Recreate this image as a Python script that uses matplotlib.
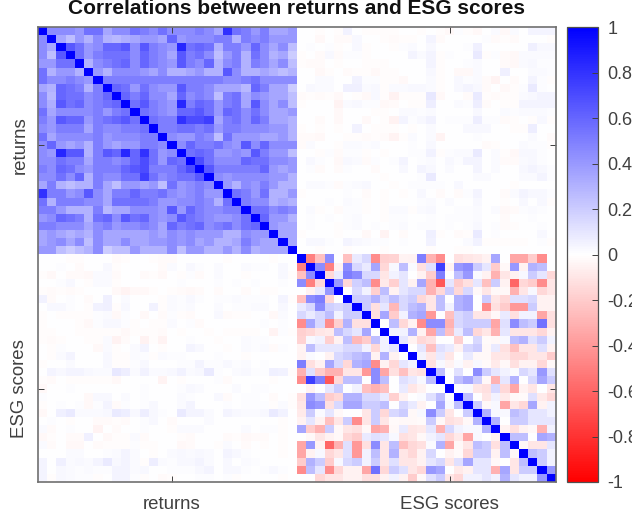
import numpy as np
import matplotlib
matplotlib.use("Agg")
import matplotlib.pyplot as plt
from matplotlib.colors import LinearSegmentedColormap

title = "Correlations between returns and ESG scores"
block_labels = ["returns", "ESG scores"]
block_ticks = [14, 44]
cbar_ticks = [-1, -0.8, -0.6, -0.4, -0.2, 0, 0.2, 0.4, 0.6, 0.8, 1]
cbar_labels = ["-1", "-0.8", "-0.6", "-0.4", "-0.2", "0", "0.2", "0.4", "0.6", "0.8", "1"]

# Upper triangle of the returns block, in hundredths
returns_upper = [
 [45,45,45,40,55,55,35,45,45,55,50,45,55,45,45,45,50,45,35,80,55,50,40,50,35,35,40],
 [35,25,40,30,45,30,28,32,35,40,40,35,60,40,45,45,45,50,50,30,50,45,50,40,40,40],
 [65,55,40,45,60,60,65,45,65,50,45,40,85,55,60,55,30,50,50,40,60,45,35,45,25],
 [55,40,50,55,55,55,45,60,50,45,35,65,50,55,45,25,40,50,30,55,45,30,35,20],
 [30,45,50,55,60,45,60,50,45,40,65,50,45,60,30,45,50,30,50,45,35,45,25],
 [40,30,45,45,45,40,35,45,30,30,35,40,30,30,65,45,30,30,35,30,25,30],
 [50,50,50,50,50,50,50,50,50,50,50,50,50,45,45,50,55,45,45,45,45],
 [60,55,40,55,45,40,40,65,50,50,45,35,35,35,28,60,50,35,35,20],
 [60,50,60,45,45,35,60,45,50,45,25,50,55,35,45,40,35,35,25],
 [55,65,50,45,40,85,50,60,55,40,50,55,35,65,45,35,45,25],
 [55,50,45,40,60,60,65,55,40,60,55,45,55,45,35,35,40],
 [55,50,50,80,70,70,75,35,50,55,45,60,50,35,35,30],
 [50,50,55,55,50,55,40,50,50,45,45,45,40,40,30],
 [45,40,40,50,45,25,55,40,40,40,35,35,40,30],
 [45,60,50,50,55,45,40,65,45,60,45,45,45],
 [55,60,55,40,40,45,40,65,50,40,40,25],
 [70,55,45,45,45,60,55,55,45,45,40],
 [65,50,50,50,50,50,60,40,35,40],
 [45,40,45,45,45,45,40,40,30],
 [40,30,45,40,50,40,30,30],
 [55,50,40,55,30,30,40],
 [50,45,45,30,35,30],
 [55,55,45,50,45],
 [60,40,40,30],
 [40,35,35],
 [35,35],
 [35],
]

# Upper triangle of the ESG block, in hundredths
esg_upper = [
 [-50,-25,45,0,-25,8,15,-45,-18,-17,-4,-5,50,-30,-45,0,-12,-10,-8,-5,35,0,-35,-35,-20,-45,0],
 [45,-50,-5,45,15,8,35,-15,3,25,2,-12,12,75,-5,40,45,20,10,-20,-3,40,-5,30,25,0],
 [-15,8,50,45,15,15,-10,5,10,0,-5,-20,50,0,25,40,2,-5,-30,-10,-5,3,20,10,-15],
 [40,-15,18,25,-45,-8,-18,10,-5,35,-30,-65,10,-20,-12,10,-25,20,-5,-60,-15,-20,-45,-10],
 [0,15,5,-18,25,-5,10,15,15,-30,-15,20,-15,15,-3,-10,-3,-3,-30,-10,3,-15,-10],
 [20,20,30,15,25,15,20,-15,-10,25,0,30,35,0,20,-10,-15,12,12,15,-5,-5],
 [20,-12,10,-28,15,25,30,-10,25,5,30,35,0,-45,-12,-20,-40,-40,20,-5,-5],
 [-12,35,-20,5,30,35,-40,0,-25,15,20,-10,-10,-3,8,-12,5,5,-35,-12],
 [0,25,-15,-5,-45,45,45,-30,15,20,20,20,-35,12,45,25,20,55,-12],
 [5,5,30,-5,-35,25,-25,8,25,-15,-10,-30,10,-10,-10,-10,-15,-5],
 [10,-5,-15,-12,0,0,-18,0,15,-2,-3,3,25,30,12,20,5],
 [0,10,-25,12,8,-5,15,20,-3,8,-12,-25,-10,-10,12,-5],
 [5,-10,8,-10,0,8,-3,-3,-10,-10,-15,-15,-10,-10,-20],
 [-12,3,-5,2,-5,3,-2,-8,-3,-12,-5,-5,-15,-3],
 [25,0,12,0,45,20,10,5,2,15,10,40,12],
 [0,25,35,20,-3,-30,10,30,0,15,35,20],
 [2,3,-10,-12,15,-15,-35,-5,-10,0,-10],
 [25,0,-10,5,-8,-3,-2,12,-8,-15],
 [20,-3,3,-35,-10,-15,35,-5,5],
 [30,3,3,25,20,10,10,5],
 [30,0,20,20,10,10,10],
 [-5,-12,-5,-3,-30,5],
 [25,25,0,35,30],
 [-3,-10,-10,10],
 [25,20,5],
 [20,5],
 [40],
]

# Returns (rows) against ESG scores (columns), in hundredths
cross_block = [
 [0,0,-1,0,-1,5,0,-1,-1,-1,-1,0,0,-1,0,-1,-3,1,-1,-3,0,2,-3,2,0,4,4,4],
 [0,0,-3,0,-2,-2,3,0,0,-1,-2,-1,-1,0,4,-2,0,0,0,0,1,-2,-1,-2,0,0,0,-1],
 [0,1,0,1,-1,0,3,-1,0,0,-1,1,2,0,3,0,0,0,1,6,0,0,0,0,0,6,3,3],
 [-1,0,-2,3,-2,1,1,-1,0,0,0,0,4,2,4,-1,1,0,0,8,-1,1,-2,-3,2,2,2,2],
 [-1,-2,-2,0,-1,0,0,-1,-1,-1,0,0,0,0,4,-1,0,0,1,2,0,0,-2,-3,2,3,1,1],
 [0,0,-3,-1,0,-2,-1,-1,-3,-1,-1,0,0,0,3,-1,0,-3,-3,2,0,0,6,0,0,2,2,1],
 [0,0,2,2,0,0,5,1,1,-1,-1,-3,0,0,2,-1,0,3,1,2,-2,-4,0,-2,0,4,1,-1],
 [0,3,2,2,0,6,6,2,3,-1,2,2,3,3,2,-1,0,3,4,3,-2,0,-3,-1,1,8,1,0],
 [-2,-1,-2,-1,-3,0,-1,-3,3,-1,-5,-1,-1,-1,9,-3,0,0,-2,8,-1,-2,-1,-1,2,3,4,4],
 [-1,0,0,0,-4,2,3,1,1,-3,-2,0,-1,-1,7,0,0,2,1,7,-2,0,-1,-1,4,4,4,4],
 [0,0,0,0,-3,0,0,0,-1,-1,0,2,2,1,2,0,0,0,0,3,0,0,2,1,2,2,2,1],
 [0,0,-2,0,-3,0,0,-3,0,-1,-5,4,1,3,5,0,1,1,1,7,1,1,-2,-1,0,-1,3,-1],
 [-1,0,-1,0,-1,0,5,0,-1,-1,-1,0,-1,0,2,0,0,0,3,3,3,0,0,-1,-1,7,0,0],
 [-2,-2,-3,0,0,-1,-1,-2,-1,-2,-4,-1,2,0,2,-4,0,0,0,1,0,0,0,0,0,2,0,-2],
 [-2,2,0,0,-1,2,2,1,2,0,0,0,1,0,3,0,0,0,0,0,-2,-1,0,0,2,1,1,-1],
 [0,0,-1,1,-2,1,1,-1,0,-1,0,0,1,1,5,-1,1,2,2,8,0,2,-1,-3,3,3,1,0],
 [0,3,1,0,-3,3,2,-2,1,0,1,4,0,1,2,0,3,1,4,4,0,2,-2,-2,2,3,1,0],
 [0,1,-2,0,-2,1,0,0,-2,0,0,3,0,4,3,0,2,0,0,4,0,2,0,0,3,4,3,1],
 [0,0,0,0,0,0,0,0,0,-1,0,0,0,1,8,0,0,0,0,2,2,0,0,0,2,2,4,1],
 [0,2,2,1,-2,1,2,3,0,0,-1,0,1,1,1,1,0,3,0,0,0,0,0,-1,0,0,0,0],
 [-1,0,0,0,0,1,0,-2,0,-1,0,-1,0,3,0,-2,0,-2,1,4,0,0,-2,2,4,3,3,1],
 [0,0,0,1,0,2,1,-1,0,-1,0,0,0,1,2,0,2,0,0,3,0,0,-1,0,3,0,3,-1],
 [0,2,-1,0,-2,1,1,-1,0,-1,2,2,-1,2,3,0,0,1,1,2,0,2,-3,-2,1,2,1,0],
 [0,1,0,1,0,1,2,0,0,-1,1,1,0,0,1,0,1,1,1,2,0,0,-2,0,0,1,0,0],
 [0,1,0,0,-1,1,2,0,1,0,1,2,0,1,1,0,1,0,1,3,0,1,-2,-1,0,0,1,0],
 [-1,0,0,0,-1,0,0,-3,0,-4,0,-2,0,0,6,-1,0,-2,-1,8,0,1,0,0,0,0,3,0],
 [0,3,3,1,0,4,3,2,1,1,0,1,0,0,5,0,0,0,2,5,-1,-1,-1,-1,-1,0,1,-1],
 [0,0,-1,0,0,-1,0,0,0,-1,0,0,0,0,-1,0,0,-1,-1,0,0,0,0,0,0,0,0,0],
]


def symmetric(upper):
    size = len(upper) + 1
    block = np.zeros((size, size))
    for i, row in enumerate(upper):
        block[i, i + 1:] = row
    return (block + block.T) / 100 + np.eye(size)


cross = np.array(cross_block) / 100
corr = np.block([[symmetric(returns_upper), cross],
                 [cross.T, symmetric(esg_upper)]])

plt.rcParams["font.family"] = ["Liberation Sans", "DejaVu Sans"]
W, H = 632, 517
fig = plt.figure(figsize=(W / 100, H / 100), dpi=100)
ink = "#404040"
cmap = LinearSegmentedColormap.from_list("rwb", ["#ff0000", "#ffffff", "#0000ff"], N=256)


def box(left, top, right, bottom):
    return [left / W, 1 - bottom / H, (right - left) / W, (bottom - top) / H]


ax = fig.add_axes(box(38, 27, 556, 482))
im = ax.imshow(corr, cmap=cmap, vmin=-1, vmax=1, aspect="auto", interpolation="nearest")
ax.set_xticks(block_ticks, block_labels)
ax.set_yticks(block_ticks, block_labels, rotation=90, va="center")
ax.tick_params(direction="in", top=True, right=True, length=4, width=0.7,
               color=ink, labelcolor=ink, labelsize=13.4, pad=10)
ax.tick_params(axis="y", pad=7)
for spine in ax.spines.values():
    spine.set_color("#707070")
    spine.set_linewidth(1.2)
fig.text(297 / W, 1 - 8 / H, title, fontsize=15, fontweight="bold", color="#111111",
         ha="center", va="center")

cax = fig.add_axes(box(567, 27, 598, 482))
cb = fig.colorbar(im, cax=cax, ticks=cbar_ticks)
cb.ax.set_yticklabels(cbar_labels)
cb.ax.tick_params(direction="in", length=4, width=0.7, color=ink, labelcolor=ink,
                  labelsize=13, pad=7)
cb.outline.set_edgecolor("#505050")
cb.outline.set_linewidth(0.9)
fig.savefig("out.png", dpi=100)
